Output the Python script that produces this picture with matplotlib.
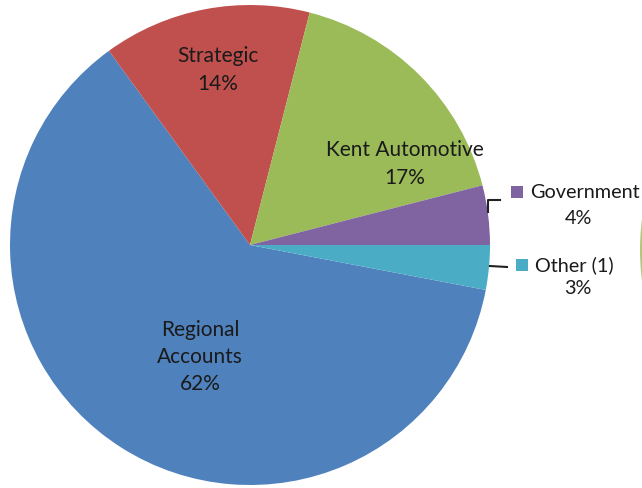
import matplotlib
matplotlib.use('Agg')
from matplotlib import pyplot as plt
from matplotlib.patches import Circle

# data
segments = ['Regional\nAccounts', 'Strategic', 'Kent Automotive', 'Government', 'Other (1)']
shares = [62, 14, 17, 4, 3]
colors = ['#4F81BD', '#C0504D', '#9BBB59', '#8064A2', '#4BACC6']

plt.rcParams['font.family'] = ['Lato', 'DejaVu Sans']

fig = plt.figure(figsize=(6.42, 4.88), dpi=100)
ax = fig.add_axes([0, 0, 1, 1])

# pie centre / radius in pixel coords
cx, cy, r = 250, 243, 240
ax.pie(shares, colors=colors, startangle=-10.8, counterclock=False,
       center=(cx, cy), radius=r, frame=True,
       wedgeprops={'linewidth': 0})
ax.set_xlim(0, 642)
ax.set_ylim(0, 488)
ax.set_aspect('equal')
ax.axis('off')

# edge of the neighbouring chart peeking in at the right border
ax.add_patch(Circle((880, 238), 240, color='#9BBB59', lw=0, alpha=0.8))

txt_color = '#1a1a1a'
fs = 15

# labels inside slices
inside_pos = {0: (200, 131), 1: (218, 418), 2: (405, 324)}
for i, (x, y) in inside_pos.items():
    ax.text(x, y, '%s\n%d%%' % (segments[i], shares[i]), ha='center', va='center',
            fontsize=fs, color=txt_color, linespacing=1.45)

# outside labels with legend key
outside = {3: (517, 296, 578, 270), 4: (522, 223, 578, 200)}
for i, (mx, my, px, py) in outside.items():
    ax.scatter([mx], [my], marker='s', s=70, color=colors[i], linewidths=0)
    ax.text(mx + 13, my, segments[i], ha='left', va='center',
            fontsize=14.3, color=txt_color)
    ax.text(px, py, '%d%%' % shares[i], ha='center', va='center',
            fontsize=14.3, color=txt_color)

# leader lines
ax.plot([488, 488, 500], [276, 288, 288], color='#222222', lw=1.5)
ax.plot([490, 507], [222, 221], color='#222222', lw=1.5)

fig.savefig('out.png', dpi=100)
